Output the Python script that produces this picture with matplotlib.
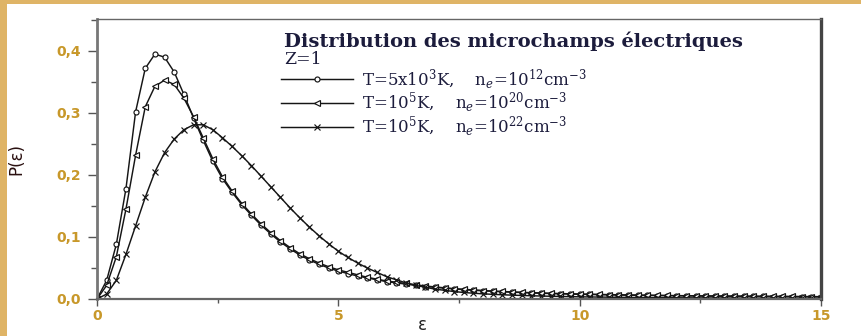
import numpy as np
import matplotlib
matplotlib.use("Agg")
import matplotlib.pyplot as plt
from matplotlib.patches import Rectangle
from matplotlib.ticker import MultipleLocator, FuncFormatter

# champ réduit epsilon, un point toutes les 0.2 unités (comme les marqueurs)
eps = np.round(np.arange(0, 15.001, 0.2), 1)

# T=5x10^3 K, ne=10^12 cm^-3 (cercles)
p_cercles = [
    0.000, 0.030, 0.088, 0.178, 0.302, 0.372, 0.395, 0.390, 0.366, 0.330,
    0.292, 0.256, 0.222, 0.194, 0.172, 0.152, 0.135, 0.119, 0.105, 0.092,
    0.081, 0.071, 0.063, 0.056, 0.050, 0.045, 0.041, 0.037, 0.034, 0.031,
    0.028, 0.026, 0.024, 0.022, 0.020, 0.019, 0.0175, 0.0162, 0.0151, 0.0141,
    0.0132, 0.0124, 0.0117, 0.0110, 0.0104, 0.0098, 0.0093, 0.0088, 0.0084, 0.0080,
    0.0076, 0.0073, 0.0070, 0.0067, 0.0064, 0.0062, 0.0060, 0.0058, 0.0056, 0.0054,
    0.0052, 0.0050, 0.0049, 0.0047, 0.0046, 0.0045, 0.0044, 0.0043, 0.0042, 0.0041,
    0.0040, 0.0039, 0.0038, 0.0037, 0.0036, 0.0035,
]

# T=10^5 K, ne=10^20 cm^-3 (triangles)
p_triangles = [
    0.000, 0.022, 0.068, 0.145, 0.232, 0.310, 0.343, 0.353, 0.346, 0.324,
    0.294, 0.260, 0.226, 0.197, 0.174, 0.154, 0.137, 0.121, 0.107, 0.094,
    0.083, 0.073, 0.065, 0.058, 0.052, 0.047, 0.043, 0.039, 0.035, 0.032,
    0.029, 0.027, 0.025, 0.023, 0.021, 0.0195, 0.0180, 0.0167, 0.0156, 0.0146,
    0.0137, 0.0128, 0.0121, 0.0114, 0.0108, 0.0102, 0.0097, 0.0092, 0.0088, 0.0084,
    0.0080, 0.0077, 0.0074, 0.0071, 0.0068, 0.0065, 0.0063, 0.0061, 0.0059, 0.0057,
    0.0055, 0.0053, 0.0052, 0.0050, 0.0049, 0.0048, 0.0047, 0.0046, 0.0045, 0.0044,
    0.0043, 0.0042, 0.0041, 0.0040, 0.0039, 0.0038,
]

# T=10^5 K, ne=10^22 cm^-3 (croix)
p_croix = [
    0.000, 0.008, 0.030, 0.072, 0.118, 0.164, 0.205, 0.236, 0.258, 0.273,
    0.281, 0.281, 0.273, 0.260, 0.246, 0.231, 0.215, 0.198, 0.181, 0.164,
    0.147, 0.131, 0.116, 0.102, 0.089, 0.077, 0.067, 0.058, 0.050, 0.043,
    0.036, 0.031, 0.026, 0.022, 0.019, 0.016, 0.014, 0.012, 0.0105, 0.0093,
    0.0083, 0.0075, 0.0068, 0.0062, 0.0057, 0.0052, 0.0048, 0.0044, 0.0041, 0.0038,
    0.0035, 0.0033, 0.0031, 0.0029, 0.0027, 0.0025, 0.0024, 0.0023, 0.0022, 0.0021,
    0.0020, 0.0019, 0.0018, 0.0017, 0.0016, 0.0016, 0.0015, 0.0014, 0.0014, 0.0013,
    0.0013, 0.0012, 0.0012, 0.0011, 0.0011, 0.0010,
]

labels = [
    "T=5x10$^3$K,    n$_e$=10$^{12}$cm$^{-3}$",
    "T=10$^5$K,    n$_e$=10$^{20}$cm$^{-3}$",
    "T=10$^5$K,    n$_e$=10$^{22}$cm$^{-3}$",
]

plt.rcParams["mathtext.fontset"] = "dejavuserif"

W, H = 862, 336
fig = plt.figure(figsize=(W / 100, H / 100), dpi=100, facecolor="#dfb466")
# fond blanc de la figure scannée
fig.patches.append(Rectangle((7 / W, 0), 1, 1 - 4 / H, transform=fig.transFigure,
                             facecolor="white", edgecolor="none", zorder=-10))

ax = fig.add_axes([97 / W, 1 - 299 / H, (821 - 97) / W, (299 - 19) / H])
ax.set_facecolor("white")
ax.set_zorder(5)

ln = "#151515"
ax.plot(eps, p_cercles, color=ln, lw=1.05, marker="o", ms=3.6, mfc="white", mec=ln, mew=0.85, label=labels[0])
ax.plot(eps, p_triangles, color=ln, lw=1.05, marker="<", ms=4.2, mfc="white", mec=ln, mew=0.85, label=labels[1])
ax.plot(eps, p_croix, color=ln, lw=1.05, marker="x", ms=4.2, mec=ln, mew=0.85, label=labels[2])

ax.set_xlim(0, 15)
ax.set_ylim(0, 0.4516)
ax.xaxis.set_major_locator(MultipleLocator(5))
ax.xaxis.set_minor_locator(MultipleLocator(2.5))
ax.yaxis.set_major_locator(MultipleLocator(0.1))
ax.yaxis.set_minor_locator(MultipleLocator(0.05))
ax.yaxis.set_major_formatter(FuncFormatter(lambda v, p: f"{v:.1f}".replace(".", ",")))

tick_col = "#c8982a"
ax.tick_params(axis="y", which="major", direction="out", length=6.5, width=1, color="#555555",
               pad=5, labelsize=10, labelcolor=tick_col)
ax.tick_params(axis="y", which="minor", direction="out", length=4.5, width=1, color="#555555")
ax.tick_params(axis="x", which="major", direction="out", length=5, width=1, color="#555555",
               pad=2, labelsize=10, labelcolor=tick_col)
ax.tick_params(axis="x", which="minor", direction="out", length=3, width=1, color="#555555")
for t in ax.get_xticklabels() + ax.get_yticklabels():
    t.set_fontweight("bold")

ax.spines["left"].set_color("#777777")
ax.spines["left"].set_linewidth(2)
ax.spines["bottom"].set_color("#666666")
ax.spines["bottom"].set_linewidth(1.6)
ax.spines["top"].set_color("#666666")
ax.spines["top"].set_linewidth(1)
ax.spines["right"].set_color("#444444")
ax.spines["right"].set_linewidth(2.4)

ax.set_ylabel("P(ε)", fontsize=12, color="#2a1010")
ax.yaxis.set_label_coords((25 - 97) / (821 - 97), 0.5)
ax.set_xlabel("ε", fontsize=12, color="#222222")
ax.xaxis.set_label_coords((422 - 97) / (821 - 97), -(316 - 299) / (299 - 19))

serif = "DejaVu Serif"
txt_col = "#1c1c3c"
ax.text((284 - 97) / 724, (299 - 41) / 280, "Distribution des microchamps électriques", family=serif,
        fontweight="bold", fontsize=14, color=txt_col, va="center", ha="left", transform=ax.transAxes)
ax.text((284 - 97) / 724, (299 - 60) / 280, "Z=1", family=serif, fontsize=12.5, color=txt_col,
        va="center", ha="left", transform=ax.transAxes)

leg = ax.legend(loc="upper left", bbox_to_anchor=(281 / W, 1 - 67 / H), bbox_transform=fig.transFigure,
                frameon=False, numpoints=1, handlelength=4.3, handletextpad=0.55,
                labelspacing=0.0, borderpad=0, borderaxespad=0,
                prop={"family": serif, "size": 12})
for t in leg.get_texts():
    t.set_color(txt_col)

fig.savefig("out.png", dpi=100, facecolor=fig.get_facecolor())
